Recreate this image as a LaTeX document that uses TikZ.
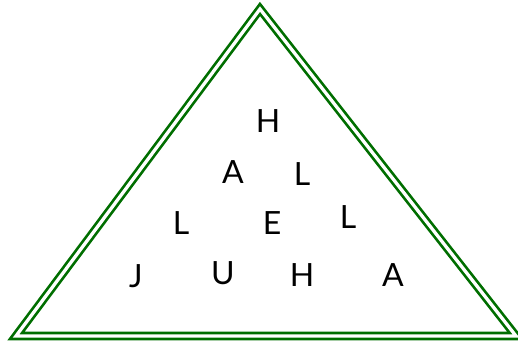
\documentclass[tikz,border=0pt]{standalone}
\usepackage{fontspec}
\setmainfont{Lato}
\definecolor{trigreen}{RGB}{0,110,0}

\begin{document}
\begin{tikzpicture}[x=1pt, y=-1pt,
  frame/.style={draw=trigreen, line width=2.7pt, double=white, double distance=3.3pt, line join=miter},
  letter/.style={inner sep=0pt, font=\fontsize{32}{38}\selectfont}
]
\useasboundingbox (0,0) rectangle (518,341);
\coordinate (top) at (260,9);
\coordinate (left) at (16,336);
\coordinate (right) at (516,336);
\draw[frame] (top) -- (left) -- (right) -- cycle;
\node[letter] (h1) at (268,121) {H};
\node[letter] (a1) at (233,172) {A};
\node[letter] (l1) at (302,174) {L};
\node[letter] (l2) at (181,223) {L};
\node[letter] (e1) at (272,223) {E};
\node[letter] (l3) at (348,217) {L};
\node[letter] (j1) at (136,276) {J};
\node[letter] (u1) at (223,273) {U};
\node[letter] (h2) at (302,275) {H};
\node[letter] (a2) at (393,275) {A};
\end{tikzpicture}
\end{document}
